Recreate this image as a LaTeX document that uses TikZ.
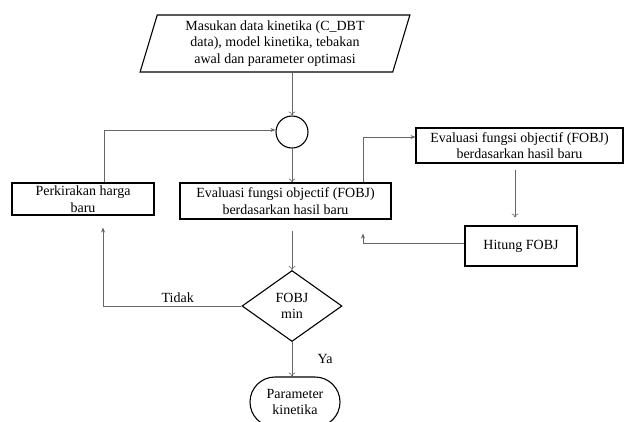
\documentclass[tikz,border=0pt]{standalone}
\usepackage{fontspec}
\setmainfont{Liberation Serif}
\usetikzlibrary{positioning, shapes.geometric, shapes.misc, arrows.meta}

\begin{document}
\begin{tikzpicture}[x=1pt, y=-1pt,
    font=\fontsize{14}{16.5}\selectfont,
    box/.style={draw, line width=1.1pt, align=center, inner sep=2pt},
    link/.style={draw=black!60, line width=0.6pt},
    tip/.style={-{Stealth[length=5pt, width=4pt]}},
    opentip/.style={-{To[length=4pt, width=7pt]}}]
    \clip (0,0) rectangle (624,421);

    % Input data
    \node[box, trapezium, trapezium left angle=75, trapezium right angle=105,
        trapezium stretches=true, minimum width=270pt, minimum height=57pt] (input) at (275,43.5)
        {Masukan data kinetika (C\_DBT\\data), model kinetika, tebakan\\awal dan parameter optimasi};

    % Junction
    \node[draw, circle, line width=1.1pt, minimum size=32pt, inner sep=0pt] (junc) at (292,132) {};

    % Boxes
    \node[box, minimum width=211pt, minimum height=36pt] (evaluasi) at (285.5,201)
        {Evaluasi fungsi objectif (FOBJ)\\berdasarkan hasil baru};
    \node[box, minimum width=142pt, minimum height=32pt] (perkiraan) at (83,199)
        {Perkirakan harga\\baru};
    \node[box, minimum width=207pt, minimum height=35pt] (evaluasi_baru) at (519.5,145.5)
        {Evaluasi fungsi objectif (FOBJ)\\berdasarkan hasil baru};
    \node[box, minimum width=112pt, minimum height=40pt] (hitung) at (521,246) {Hitung FOBJ};

    % Decision and end
    \node[box, diamond, minimum width=100pt, minimum height=71pt, inner sep=0pt] (fobj_min) at (292,306)
        {FOBJ\\min};
    \node[box, rounded rectangle, minimum width=94pt, minimum height=50pt] (param) at (295,402)
        {Parameter\\kinetika};

    \coordinate (cabang) at (363,0);

    % Arrows
    \draw[link, opentip] (junc |- input.south) -- (junc.north);
    \draw[link, opentip] (junc.south) -- (junc |- evaluasi.north);
    \draw[link, tip] ([xshift=21pt]perkiraan.north) |- ([yshift=2pt]junc.west);
    \draw[link, tip] (cabang |- evaluasi.north) |- ([yshift=8.5pt]evaluasi_baru.west);
    \draw[link, opentip, shorten <=6pt, shorten >=8pt] ([xshift=-4.5pt]evaluasi_baru.south) -- ([xshift=-4.5pt]evaluasi_baru.south |- hitung.north);
    \draw[link, tip, shorten >=14pt] ([yshift=3pt]hitung.west) -| (cabang |- evaluasi.south);
    \draw[link, opentip, shorten <=11pt] (fobj_min |- evaluasi.south) -- (fobj_min.north);
    \draw[link, tip, shorten >=12pt] (fobj_min.west) -| node[pos=0.23, above] {Tidak} ([xshift=20pt]perkiraan.south);
    \draw[link, opentip] (fobj_min.south) -- node[right=22pt] {Ya} (fobj_min |- param.north);
\end{tikzpicture}
\end{document}
